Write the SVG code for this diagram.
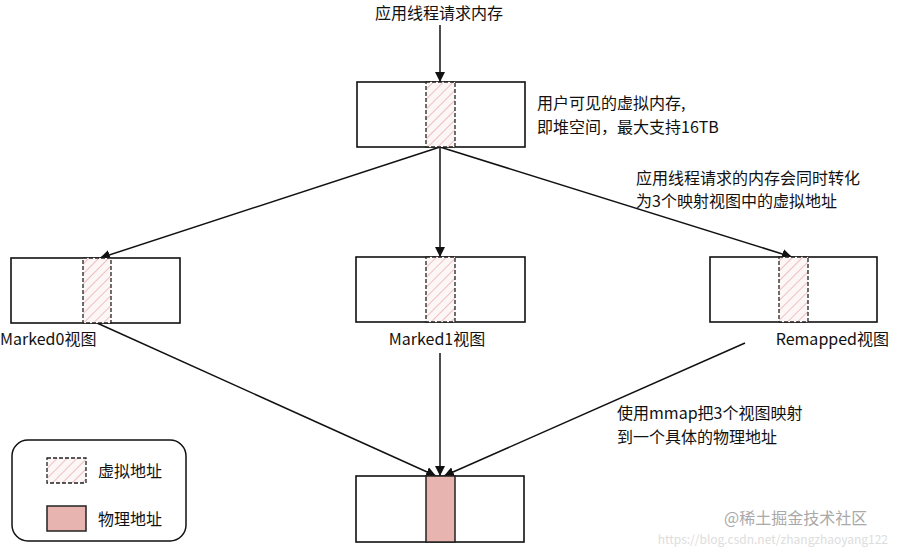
<svg xmlns="http://www.w3.org/2000/svg" width="898" height="551" viewBox="0 0 898 551">
<style>
text{font-family:"Noto Sans CJK SC","Liberation Sans",sans-serif;font-size:16px;fill:#111}
.box{fill:#fff;stroke:#111;stroke-width:1.6}
.virt{fill:url(#hatch);stroke:#222;stroke-width:1.3;stroke-dasharray:4 2}
.phys{fill:#e8b4b0;stroke:#222;stroke-width:1.5}
.conn{stroke:#111;stroke-width:1.5;fill:none;marker-end:url(#arrow)}
</style>
<defs>
<pattern id="hatch" patternUnits="userSpaceOnUse" width="7" height="7" patternTransform="rotate(45)">
<rect width="7" height="7" fill="#fdf6f6"/>
<line x1="0" y1="0" x2="0" y2="7" stroke="#eab3b3" stroke-width="1.6"/>
</pattern>
<marker id="arrow" viewBox="0 0 10 10" refX="10" refY="5" markerWidth="10" markerHeight="10" markerUnits="userSpaceOnUse" orient="auto">
<path d="M0,0 L10,5 L0,10 Z" fill="#111"/>
</marker>
</defs>
<rect width="898" height="551" fill="#fff"/>
<g id="title"><text x="439" y="19" text-anchor="middle">应用线程请求内存</text></g>
<g id="connectors">
<line class="conn" x1="440" y1="25" x2="440" y2="82"/>
<line class="conn" x1="440" y1="147" x2="100" y2="258"/>
<line class="conn" x1="440" y1="147" x2="440" y2="257"/>
<line class="conn" x1="440" y1="147" x2="792" y2="257"/>
<line class="conn" x1="97" y1="323" x2="436" y2="476"/>
<line class="conn" x1="440" y1="353" x2="440" y2="476"/>
<line class="conn" x1="745" y1="343" x2="444" y2="476"/>
</g>
<g id="top">
<rect class="box" x="357" y="82" width="168" height="65"/>
<rect class="virt" x="426" y="82" width="29" height="65"/>
<text x="537" y="109">用户可见的虚拟内存,</text>
<text x="537" y="133">即堆空间，最大支持16TB</text>
</g>
<g id="note1">
<text x="636" y="184">应用线程请求的内存会同时转化</text>
<text x="636" y="207">为3个映射视图中的虚拟地址</text>
</g>
<g id="marked0">
<rect class="box" x="11" y="258" width="169" height="65"/>
<rect class="virt" x="83" y="258" width="28" height="65"/>
<text x="0" y="345">Marked0视图</text>
</g>
<g id="marked1">
<rect class="box" x="356" y="257" width="169" height="65"/>
<rect class="virt" x="426" y="257" width="29" height="65"/>
<text x="437" y="345" text-anchor="middle">Marked1视图</text>
</g>
<g id="remapped">
<rect class="box" x="710" y="257" width="167" height="65"/>
<rect class="virt" x="779" y="257" width="29" height="65"/>
<text x="889" y="345" text-anchor="end">Remapped视图</text>
</g>
<g id="note2">
<text x="617" y="419">使用mmap把3个视图映射</text>
<text x="617" y="443">到一个具体的物理地址</text>
</g>
<g id="physical">
<rect class="box" x="356" y="476" width="168" height="66"/>
<rect class="phys" x="426" y="476" width="29" height="66"/>
</g>
<g id="legend">
<rect x="12" y="440" width="174" height="101" rx="16" fill="#fff" stroke="#111" stroke-width="1.5"/>
<rect class="virt" x="47" y="458" width="39" height="25"/>
<text x="98" y="477">虚拟地址</text>
<rect class="phys" x="47" y="506" width="39" height="25"/>
<text x="98" y="525">物理地址</text>
</g>
<g id="watermark">
<text x="724" y="524" style="fill:#a9a9a9;font-size:16px">@稀土掘金技术社区</text>
<text x="888" y="544" text-anchor="end" style="fill:#dddddd;font-size:12px">https://blog.csdn.net/zhangzhaoyang122</text>
</g>
</svg>
